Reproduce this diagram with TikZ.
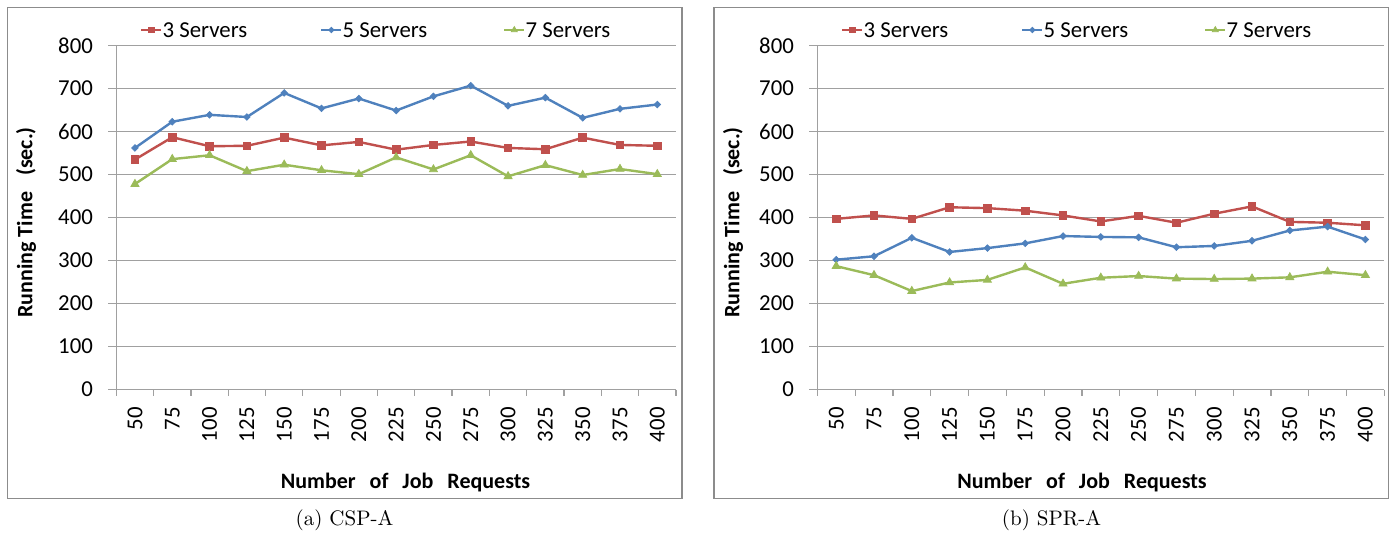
\documentclass[tikz,border=0pt]{standalone}
\usepackage{fontspec}
\newfontfamily\chartfont{Carlito}
\usetikzlibrary{plotmarks}

\definecolor{srvred}{RGB}{192,80,77}
\definecolor{srvblue}{RGB}{79,129,189}
\definecolor{srvgreen}{RGB}{155,187,89}
\definecolor{gridgray}{RGB}{160,160,160}
\definecolor{framegray}{RGB}{140,140,140}

\tikzset{
  gridline/.style={gridgray, line width=0.6pt},
  ticklabel/.style={font=\chartfont\fontsize{11.4}{13}\selectfont, inner sep=0pt},
  axistitle/.style={font=\chartfont\bfseries\fontsize{11}{13}\selectfont, inner sep=0pt},
  three/.style={srvred, line width=1.2pt, mark=square*, mark size=1.9pt,
    mark options={solid, line width=0.4pt}},
  five/.style={srvblue, line width=1.2pt, mark=square*, mark size=1.15pt,
    mark options={solid, rotate=45, line width=0.4pt}},
  seven/.style={srvgreen, line width=1.2pt, mark=triangle*, mark size=2.3pt,
    mark options={solid, line width=0.4pt}},
}

\begin{document}
\begin{tikzpicture}[x=0.5pt, y=-0.5pt]
    \useasboundingbox (0,0) rectangle (1390,540);

    % frames
    \draw[framegray, line width=0.6pt] (7.3,7.5) rectangle (682,498.3);
    \draw[framegray, line width=0.6pt] (714,7.5) rectangle (1388.8,498.3);

    % grid, ticks, labels and legend of both charts
    \foreach \ox/\dx/\pfx in {116.3/37.31/a, 817.3/37.8/b}{
        \begin{scope}[shift={(\ox,389.5)}]
            \foreach \v in {0,...,8}{
                \draw[gridline] (-8,{-42.98*\v}) -- ({15*\dx},{-42.98*\v});
                \pgfmathtruncatemacro\lab{100*\v}
                \node[ticklabel, anchor=east] (\pfx y\v) at (-23,{-42.98*\v}) {\lab};
            }
            \draw[gridline] (0,-343.84) -- (0,6.5);
            \foreach \k in {1,...,15}
                \draw[gridline] ({\k*\dx},0) -- ++(0,6.5);
            \foreach \n [count=\k] in {50,75,...,400}
                \node[ticklabel, rotate=90, anchor=east] (\pfx x\k) at ({(\k-0.5)*\dx},17.5) {\n};

            % legend
            \draw[three, mark size=1.4pt, mark indices={2}] plot coordinates {(25,-359.5) (35,-359.5) (45,-359.5)};
            \node[ticklabel, anchor=west] (\pfx leg3) at (46,-359.5) {3 Servers};
            \draw[five, mark size=0.95pt, mark indices={2}] plot coordinates {(205,-359.5) (215,-359.5) (225,-359.5)};
            \node[ticklabel, anchor=west] (\pfx leg5) at (226,-359.5) {5 Servers};
            \draw[seven, mark size=1.7pt, mark indices={2}] plot coordinates {(388,-359.5) (398,-359.5) (408,-359.5)};
            \node[ticklabel, anchor=west] (\pfx leg7) at (409,-359.5) {7 Servers};
        \end{scope}
    }

    % CSP-A
    \begin{scope}[shift={(116.3,389.5)}, x=18.655pt, y=0.2149pt, xshift=-9.3275pt]
        \draw[three] plot coordinates {(1,535) (2,587) (3,566) (4,567) (5,586) (6,568) (7,576) (8,558)
            (9,569) (10,577) (11,562) (12,559) (13,586) (14,569) (15,567)};
        \draw[five] plot coordinates {(1,562) (2,623) (3,639) (4,634) (5,690) (6,654) (7,677) (8,649)
            (9,682) (10,707) (11,660) (12,679) (13,632) (14,653) (15,663)};
        \draw[seven] plot coordinates {(1,478) (2,536) (3,545) (4,508) (5,523) (6,510) (7,501) (8,540)
            (9,512) (10,545) (11,496) (12,522) (13,499) (14,513) (15,501)};
    \end{scope}

    % SPR-A
    \begin{scope}[shift={(817.3,389.5)}, x=18.9pt, y=0.2149pt, xshift=-9.45pt]
        \draw[three] plot coordinates {(1,397) (2,405) (3,397) (4,424) (5,422) (6,416) (7,405) (8,391)
            (9,404) (10,388) (11,409) (12,426) (13,390) (14,388) (15,382)};
        \draw[five] plot coordinates {(1,302) (2,310) (3,353) (4,320) (5,329) (6,340) (7,357) (8,355)
            (9,354) (10,331) (11,334) (12,346) (13,370) (14,379) (15,349)};
        \draw[seven] plot coordinates {(1,287) (2,266) (3,229) (4,249) (5,255) (6,284) (7,246) (8,260)
            (9,264) (10,258) (11,257) (12,258) (13,261) (14,274) (15,266)};
    \end{scope}

    % axis titles
    \node[axistitle, rotate=90] (ayt) at (26,222.4) {Running Time\hspace{8pt}(sec.)};
    \node[axistitle] (axt) at (405.5,482.5) {Number\hspace{7pt}of\hspace{7pt}Job\hspace{7pt}Requests};
    \node[axistitle, rotate=90] (byt) at (733,222.4) {Running Time\hspace{8pt}(sec.)};
    \node[axistitle] (bxt) at (1082,482.5) {Number\hspace{7pt}of\hspace{7pt}Job\hspace{7pt}Requests};

    % captions
    \node[font=\fontsize{10.5}{12}\selectfont, inner sep=0pt] (capa) at (344.5,520) {(a) CSP-A};
    \node[font=\fontsize{10.5}{12}\selectfont, inner sep=0pt] (capb) at (1051.5,520) {(b) SPR-A};

\end{tikzpicture}
\end{document}
